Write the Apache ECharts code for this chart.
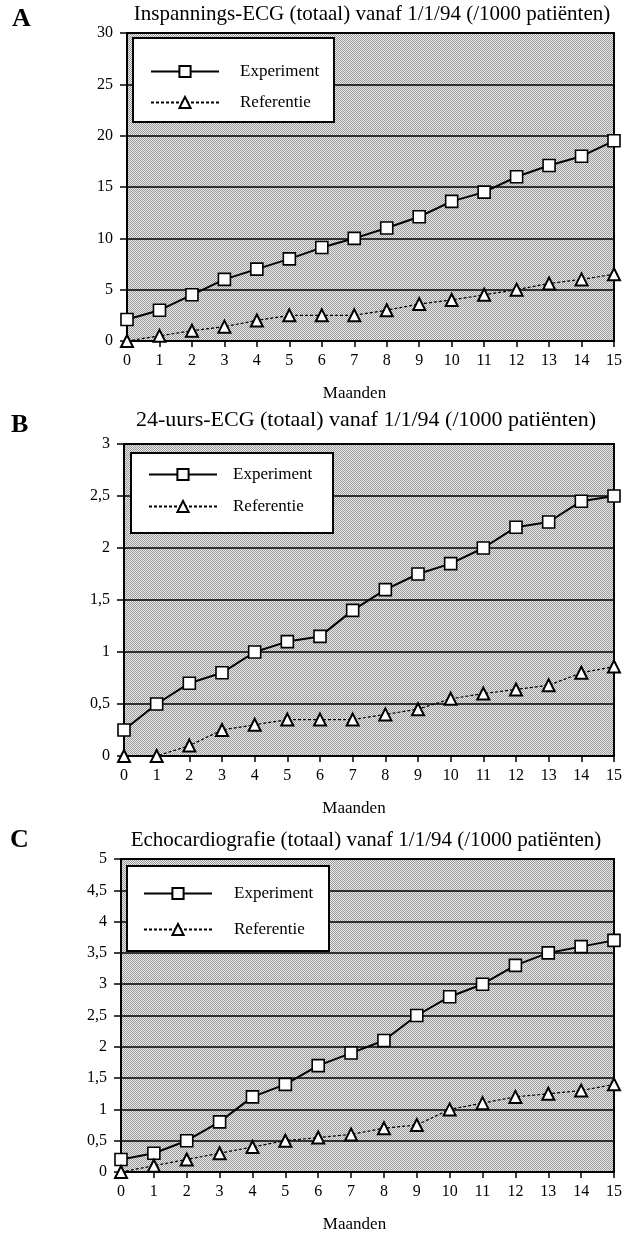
<!DOCTYPE html>
<html>
<head>
<meta charset="utf-8">
<script src="https://cdn.jsdelivr.net/npm/echarts@6/dist/echarts.min.js"></script>
<style>
  html, body { margin: 0; padding: 0; background: #fff; }
  #chart { width: 625px; height: 1234px; }
</style>
</head>
<body>
<div id="chart"></div>
<script>
// Months since 1/1/94 (x-axis categories)
const months = ['0','1','2','3','4','5','6','7','8','9','10','11','12','13','14','15'];
const seriesNames = ['Experiment', 'Referentie'];
const panelLetters = ['A', 'B', 'C'];
const panelTitles = [
  'Inspannings-ECG (totaal) vanaf 1/1/94 (/1000 patiënten)',
  '24-uurs-ECG (totaal) vanaf 1/1/94 (/1000 patiënten)',
  'Echocardiografie (totaal) vanaf 1/1/94 (/1000 patiënten)'
];
const xAxisTitle = 'Maanden';

// Y-axis tick values per panel
const yTicksA = [0, 5, 10, 15, 20, 25, 30];
const yTicksB = [0, 0.5, 1, 1.5, 2, 2.5, 3];
const yTicksC = [0, 0.5, 1, 1.5, 2, 2.5, 3, 3.5, 4, 4.5, 5];

// A: exercise ECG
const inspanningsExperiment = [2.1, 3, 4.5, 6, 7, 8, 9.1, 10, 11, 12.1, 13.6, 14.5, 16, 17.1, 18, 19.5];
const inspanningsReferentie = [0, 0.5, 1, 1.4, 2, 2.5, 2.5, 2.5, 3, 3.6, 4, 4.5, 5, 5.6, 6, 6.5];
// B: 24-hour ECG
const holterExperiment = [0.25, 0.5, 0.7, 0.8, 1, 1.1, 1.15, 1.4, 1.6, 1.75, 1.85, 2, 2.2, 2.25, 2.45, 2.5];
const holterReferentie = [0, 0, 0.1, 0.25, 0.3, 0.35, 0.35, 0.35, 0.4, 0.45, 0.55, 0.6, 0.64, 0.68, 0.8, 0.86];
// C: echocardiography
const echoExperiment = [0.2, 0.3, 0.5, 0.8, 1.2, 1.4, 1.7, 1.9, 2.1, 2.5, 2.8, 3, 3.3, 3.5, 3.6, 3.7];
const echoReferentie = [0, 0.1, 0.2, 0.3, 0.4, 0.5, 0.55, 0.6, 0.7, 0.75, 1, 1.1, 1.2, 1.25, 1.3, 1.4];

const FONT = '"Liberation Serif", "Times New Roman", serif';

// Fine halftone screen (1px checker) used as the plot background
function makeStipple() {
  const c = document.createElement('canvas');
  c.width = 2; c.height = 2;
  const g = c.getContext('2d');
  g.fillStyle = '#e8e8e8';
  g.fillRect(0, 0, 2, 2);
  g.fillStyle = '#9c9c9c';
  g.fillRect(0, 0, 1, 1);
  g.fillRect(1, 1, 1, 1);
  return c;
}
const stipple = { image: makeStipple(), repeat: 'repeat' };

const panels = [
  { ticks: yTicksA, exp: inspanningsExperiment, ref: inspanningsReferentie,
    grid: { left: 127, top: 33, width: 489, height: 308 },
    legend: { left: 150, top: 63, gap: 14, pad: 16 },
    box: { x: 133, y: 38, w: 201, h: 84 },
    title: { x: 372, y: 14, size: 21 }, letter: { x: 12, y: 19 }, namePad: 32 },
  { ticks: yTicksB, exp: holterExperiment, ref: holterReferentie,
    grid: { left: 124, top: 444, width: 491, height: 312 },
    legend: { left: 148, top: 466, gap: 15, pad: 11 },
    box: { x: 131, y: 453, w: 202, h: 80 },
    title: { x: 366, y: 420, size: 22 }, letter: { x: 11, y: 425 }, namePad: 30 },
  { ticks: yTicksC, exp: echoExperiment, ref: echoReferentie,
    grid: { left: 121, top: 859, width: 493, height: 315 },
    legend: { left: 143, top: 885, gap: 19, pad: 17 },
    box: { x: 127, y: 866, w: 202, h: 85 },
    title: { x: 366, y: 840, size: 21 }, letter: { x: 10, y: 840 }, namePad: 26 }
];

const commaFmt = v => String(v).replace('.', ',');

const option = {
  animation: false,
  backgroundColor: '#fff',
  grid: [], xAxis: [], yAxis: [], series: [], legend: [], graphic: []
};

panels.forEach((p, i) => {
  option.grid.push(Object.assign({
    show: true, backgroundColor: stipple, borderColor: '#000', borderWidth: 2
  }, p.grid));

  option.xAxis.push({
    gridIndex: i, type: 'category', data: months, boundaryGap: false,
    name: xAxisTitle, nameLocation: 'middle', nameGap: 44,
    nameTextStyle: { fontFamily: FONT, fontSize: 17, color: '#000', padding: [0, p.namePad, 0, 0] },
    axisLine: { lineStyle: { color: '#000', width: 2 } },
    axisTick: { show: true, inside: false, length: 6, alignWithLabel: true, lineStyle: { color: '#000', width: 1.5 } },
    axisLabel: { fontFamily: FONT, fontSize: 16, color: '#000', margin: 12, interval: 0 },
    splitLine: { show: false }
  });

  const t = p.ticks;
  option.yAxis.push({
    gridIndex: i, type: 'value',
    min: t[0], max: t[t.length - 1], interval: t[1] - t[0],
    axisLine: { show: true, lineStyle: { color: '#000', width: 2 } },
    axisTick: { show: true, inside: false, length: 7, lineStyle: { color: '#000', width: 1.5 } },
    axisLabel: { fontFamily: FONT, fontSize: 16, color: '#000', margin: 14, formatter: commaFmt },
    splitLine: { show: true, lineStyle: { color: '#000', width: 1.5 } }
  });

  option.series.push({
    name: seriesNames[0], type: 'line', xAxisIndex: i, yAxisIndex: i,
    data: p.exp, clip: false, z: 3,
    symbol: 'rect', symbolSize: 12,
    lineStyle: { color: '#000', width: 2 },
    itemStyle: { color: '#fff', borderColor: '#000', borderWidth: 1.6 }
  });
  option.series.push({
    name: seriesNames[1], type: 'line', xAxisIndex: i, yAxisIndex: i,
    data: p.ref, clip: false, z: 3,
    symbol: 'triangle', symbolSize: 12,
    lineStyle: { color: '#000', width: 1.2, type: [3, 2] },
    itemStyle: { color: '#fff', borderColor: '#000', borderWidth: 2 }
  });

  option.legend.push({
    orient: 'vertical', left: p.legend.left, top: p.legend.top, padding: 0,
    itemWidth: 68, itemHeight: 14, itemGap: p.legend.gap,
    selectedMode: false, z: 12,
    data: seriesNames,
    textStyle: { fontFamily: FONT, fontSize: 17, color: '#000', padding: [0, 0, 0, p.legend.pad] }
  });

  option.graphic.push({
    type: 'rect', z: 10,
    shape: { x: p.box.x, y: p.box.y, width: p.box.w, height: p.box.h },
    style: { fill: '#fff', stroke: '#000', lineWidth: 2 }
  });
  option.graphic.push({
    type: 'text', z: 10, x: p.title.x, y: p.title.y,
    style: { text: panelTitles[i], fontFamily: FONT, fontSize: p.title.size, fill: '#000',
             textAlign: 'center', textVerticalAlign: 'middle' }
  });
  option.graphic.push({
    type: 'text', z: 10, x: p.letter.x, y: p.letter.y,
    style: { text: panelLetters[i], fontFamily: FONT, fontSize: 26, fontWeight: 'bold', fill: '#000',
             textAlign: 'left', textVerticalAlign: 'middle' }
  });
});

const chart = echarts.init(document.getElementById('chart'), null, { renderer: 'canvas' });
chart.setOption(option);
</script>
</body>
</html>
